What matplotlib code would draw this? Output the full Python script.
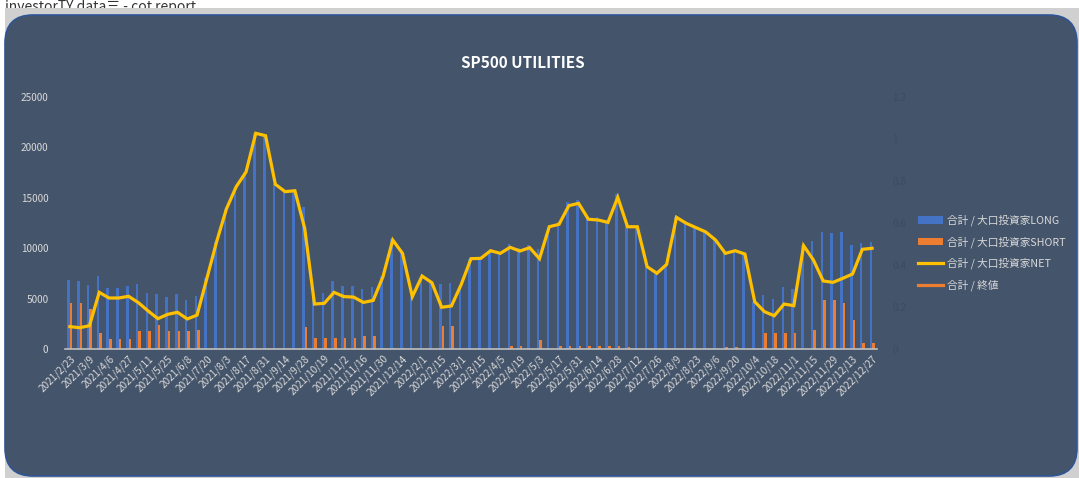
import numpy as np
import matplotlib
matplotlib.use("Agg")
import matplotlib.pyplot as plt
from matplotlib.patches import FancyBboxPatch, Rectangle, Patch
from matplotlib.lines import Line2D
from matplotlib.transforms import IdentityTransform

plt.rcParams['font.family'] = ['Noto Sans CJK JP', 'DejaVu Sans']

# 日付 (週次、欠けている週あり)
fechas = [
    "2021/2/23", "2021/3/2", "2021/3/9", "2021/3/23", "2021/4/6", "2021/4/20",
    "2021/4/27", "2021/5/4", "2021/5/11", "2021/5/18", "2021/5/25", "2021/6/1",
    "2021/6/8", "2021/6/15", "2021/7/20", "2021/7/27", "2021/8/3", "2021/8/10",
    "2021/8/17", "2021/8/24", "2021/8/31", "2021/9/7", "2021/9/14", "2021/9/21",
    "2021/9/28", "2021/10/12", "2021/10/19", "2021/10/26", "2021/11/2", "2021/11/9",
    "2021/11/16", "2021/11/23", "2021/11/30", "2021/12/7", "2021/12/14", "2022/1/25",
    "2022/2/1", "2022/2/8", "2022/2/15", "2022/2/22", "2022/3/1", "2022/3/8",
    "2022/3/15", "2022/3/29", "2022/4/5", "2022/4/12", "2022/4/19", "2022/4/26",
    "2022/5/3", "2022/5/10", "2022/5/17", "2022/5/24", "2022/5/31", "2022/6/7",
    "2022/6/14", "2022/6/21", "2022/6/28", "2022/7/5", "2022/7/12", "2022/7/19",
    "2022/7/26", "2022/8/2", "2022/8/9", "2022/8/16", "2022/8/23", "2022/8/30",
    "2022/9/6", "2022/9/13", "2022/9/20", "2022/9/27", "2022/10/4", "2022/10/11",
    "2022/10/18", "2022/10/25", "2022/11/1", "2022/11/8", "2022/11/15", "2022/11/22",
    "2022/11/29", "2022/12/6", "2022/12/13", "2022/12/20", "2022/12/27",
]

long_vals = [
    6850, 6750, 6350, 7240, 6050, 6080, 6250, 6450, 5590, 5420, 5190, 5450,
    4860, 5220, 7000, 10650, 13900, 16100, 17550, 21400, 21160, 16340, 15610, 15700,
    14100, 5600, 5600, 6700, 6250, 6250, 5920, 6120, 7270, 10900, 9580, 5190,
    7240, 6580, 6420, 6510, 6300, 8960, 8990, 9750, 9490, 10420, 10020, 10300,
    9920, 12130, 12600, 14550, 14750, 13150, 13050, 12800, 15380, 12330, 12130, 8100,
    7440, 8330, 13130, 12400, 11970, 11540, 10810, 9490, 9820, 9420, 4690, 5360,
    4960, 6120, 5950, 10300, 10740, 11610, 11480, 11640, 10350, 10480, 10610,
]

short_vals = [
    4600, 4600, 3940, 1590, 990, 990, 990, 1820, 1820, 2380, 1820, 1820,
    1820, 1850, 0, 0, 0, 0, 0, 0, 0, 0, 0, 0,
    2150, 1060, 1060, 1060, 1090, 1090, 1290, 1290, 100, 100, 100, 0,
    0, 0, 2280, 2280, 0, 0, 0, 0, 0, 300, 300, 0,
    890, 0, 300, 300, 300, 300, 250, 250, 300, 200, 0, 0,
    0, 0, 0, 0, 0, 0, 0, 160, 160, 0, 0, 1620,
    1620, 1620, 1620, 0, 1880, 4830, 4830, 4560, 2880, 570, 570,
]

net_vals = [
    2220, 2110, 2310, 5620, 5060, 5060, 5230, 4600, 3770, 3010, 3440, 3640,
    2980, 3360, 7000, 10650, 13900, 16100, 17550, 21400, 21160, 16340, 15610, 15700,
    11970, 4460, 4530, 5620, 5200, 5150, 4620, 4820, 7170, 10810, 9490, 5190,
    7240, 6580, 4140, 4270, 6400, 8960, 8990, 9750, 9490, 10090, 9720, 10050,
    8960, 12130, 12370, 14220, 14450, 12870, 12800, 12560, 15050, 12130, 12130, 8170,
    7510, 8400, 13060, 12470, 12040, 11610, 10810, 9490, 9750, 9420, 4690, 3700,
    3300, 4460, 4300, 10250, 8830, 6750, 6610, 7010, 7440, 9890, 9990,
]

# 終値 (sin datos visibles)
cierre = []

fondo = "#44546a"
azul = "#4472c4"
naranja = "#ed7d31"
amarillo = "#ffc000"
texto = "#d9d9d9"

fig = plt.figure(figsize=(10.79, 4.78), dpi=100)
fig.patch.set_facecolor("white")

# texto superior (recortado por el marco)
fig.text(5 / 1079, 1.0, "investorTY data三 - cot report", fontsize=10,
         color="#333333", va="top", ha="left", zorder=0)
px = IdentityTransform()
fig.patches.append(Rectangle((5, 0), 1080, 470, transform=px,
                             facecolor="#d0d0d0", edgecolor="none", zorder=1))
fig.patches.append(FancyBboxPatch((5, 2), 1072, 461,
                                  boxstyle="round,pad=0,rounding_size=28",
                                  transform=px, facecolor=fondo,
                                  edgecolor="#2f5597", linewidth=1.2, zorder=2))

ax = fig.add_axes([65 / 1079, 1 - 349 / 478, 812 / 1079, 252 / 478])
ax.set_zorder(3)
ax.patch.set_visible(False)

x = np.arange(len(fechas))
ancho = 0.26
ax.bar(x - 0.13, long_vals, width=ancho, color=azul, zorder=2)
ax.bar(x + 0.13, short_vals, width=ancho, color=naranja, zorder=2)
ax.plot(x, net_vals, color=amarillo, linewidth=2.3, zorder=3,
        solid_joinstyle="miter")

ax.set_xlim(-0.5, len(fechas) - 0.5)
ax.set_ylim(0, 25000)
ax.set_yticks(range(0, 25001, 5000))
ax.set_xticks(x[::2])
ax.set_xticklabels(fechas[::2], rotation=45, ha="right", rotation_mode="anchor",
                   fontsize=7.2, color=texto)
ax.tick_params(axis="y", labelsize=7.2, labelcolor=texto, length=0, pad=12)
ax.tick_params(axis="x", length=0, pad=3)
for lado in ["top", "right", "left"]:
    ax.spines[lado].set_visible(False)
ax.spines["bottom"].set_color("#bfbfbf")
ax.spines["bottom"].set_linewidth(1.2)

# eje secundario para 終値
ax2 = ax.twinx()
ax2.set_ylim(0, 1.2)
ax2.set_yticks([0, 0.2, 0.4, 0.6, 0.8, 1, 1.2])
ax2.set_yticklabels(["0", "0.2", "0.4", "0.6", "0.8", "1", "1.2"])
ax2.tick_params(axis="y", labelsize=7.2, labelcolor="#3e4b5e", length=0, pad=11)
for lado in ["top", "right", "left", "bottom"]:
    ax2.spines[lado].set_visible(False)
ax2.plot(x[:len(cierre)], cierre, color=naranja, linewidth=2.3)

fig.text(523 / 1079, 1 - 63 / 478, "SP500 UTILITIES", fontsize=11,
         fontweight="bold", color="white", ha="center", va="center", zorder=4)

manejadores = [
    Patch(facecolor=azul, edgecolor="none"),
    Patch(facecolor=naranja, edgecolor="none"),
    Line2D([0], [0], color=amarillo, linewidth=2.3),
    Line2D([0], [0], color=naranja, linewidth=2.3),
]
etiquetas = ["合計 / 大口投資家LONG", "合計 / 大口投資家SHORT",
             "合計 / 大口投資家NET", "合計 / 終値"]
leg = fig.legend(manejadores, etiquetas, loc="upper left",
                 bbox_to_anchor=(908 / 1079, 1 - 205 / 478), frameon=False,
                 fontsize=7.7, labelcolor=texto, handlelength=2.4,
                 handleheight=0.7, labelspacing=0.95, handletextpad=0.3)
leg.set_zorder(5)

fig.savefig("out.png", dpi=100, facecolor=fig.get_facecolor())
